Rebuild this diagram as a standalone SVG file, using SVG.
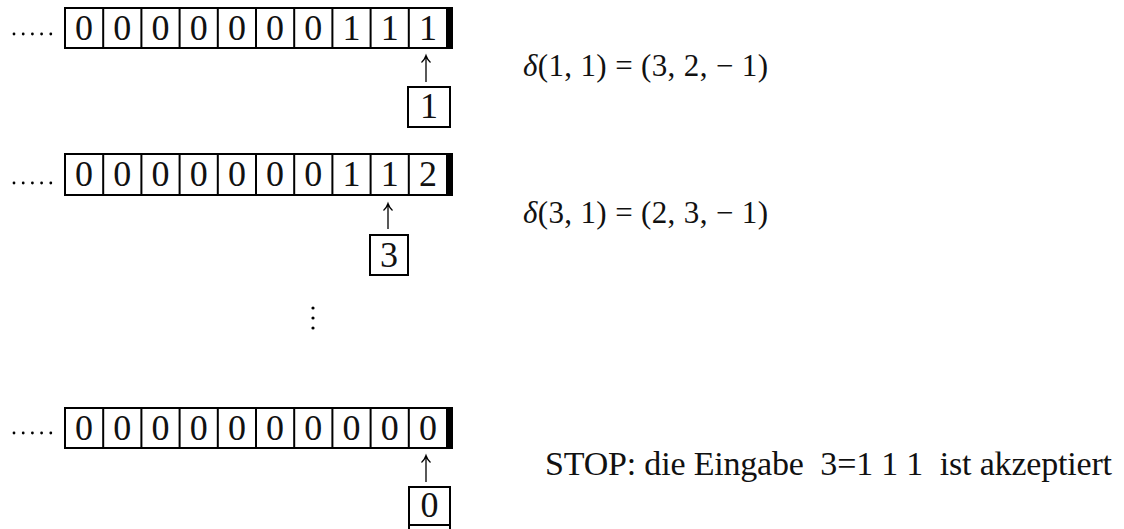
<svg xmlns="http://www.w3.org/2000/svg" width="1124" height="529" viewBox="0 0 1124 529">
<style>
.cell{fill:#fff;stroke:#000;stroke-width:2}
.bar{fill:#000}
.dig{font-family:"Liberation Serif",serif;font-size:36px;text-anchor:middle;fill:#111}
.math{font-family:"Liberation Serif",serif;font-size:31px;fill:#111;white-space:pre}
.stop{font-family:"Liberation Serif",serif;font-size:34px;fill:#111;white-space:pre}
.arr{stroke:#000;stroke-width:1.3;fill:none}
.dot{fill:#000}
</style>
<defs>
<g id="dots5">
<circle class="dot" cx="14" cy="0" r="1.4"/><circle class="dot" cx="23.2" cy="0" r="1.4"/><circle class="dot" cx="32.4" cy="0" r="1.4"/><circle class="dot" cx="41.6" cy="0" r="1.4"/><circle class="dot" cx="50.8" cy="0" r="1.4"/>
</g>
</defs>
<rect width="1124" height="529" fill="#fff"/>

<g id="tape1">
<use href="#dots5" y="34"/>
<rect class="cell" x="65" y="8" width="382" height="40"/>
<path d="M103.2 8V48M141.4 8V48M179.6 8V48M217.8 8V48M256 8V48M294.2 8V48M332.4 8V48M370.6 8V48M408.8 8V48" stroke="#000" stroke-width="2"/>
<rect class="bar" x="446" y="7" width="7" height="42"/>
<g class="dig">
<text x="84.1" y="40">0</text><text x="122.3" y="40">0</text><text x="160.5" y="40">0</text><text x="198.7" y="40">0</text><text x="236.9" y="40">0</text><text x="275.1" y="40">0</text><text x="313.3" y="40">0</text><text x="351.5" y="40">1</text><text x="389.7" y="40">1</text><text x="427.9" y="40">1</text>
</g>
</g>
<g id="head1">
<rect class="cell" x="408" y="87" width="42" height="40"/>
<text class="dig" x="429" y="118">1</text>
</g>
<g id="delta1">
<text class="math" x="523" y="76" textLength="245" lengthAdjust="spacing"><tspan font-style="italic">δ</tspan>(1, 1) = (3, 2, − 1)</text>
</g>

<g id="tape2">
<use href="#dots5" y="183"/>
<rect class="cell" x="65" y="154" width="382" height="41"/>
<path d="M103.2 154V195M141.4 154V195M179.6 154V195M217.8 154V195M256 154V195M294.2 154V195M332.4 154V195M370.6 154V195M408.8 154V195" stroke="#000" stroke-width="2"/>
<rect class="bar" x="446" y="153" width="7" height="43"/>
<g class="dig">
<text x="84.1" y="186">0</text><text x="122.3" y="186">0</text><text x="160.5" y="186">0</text><text x="198.7" y="186">0</text><text x="236.9" y="186">0</text><text x="275.1" y="186">0</text><text x="313.3" y="186">0</text><text x="351.5" y="186">1</text><text x="389.7" y="186">1</text><text x="427.9" y="186">2</text>
</g>
</g>
<g id="head2">
<rect class="cell" x="370" y="235" width="38" height="40"/>
<text class="dig" x="389" y="267">3</text>
</g>
<g id="delta2">
<text class="math" x="523" y="223" textLength="245" lengthAdjust="spacing"><tspan font-style="italic">δ</tspan>(3, 1) = (2, 3, − 1)</text>
</g>

<g id="vdots">
<circle class="dot" cx="313" cy="308" r="1.6"/><circle class="dot" cx="313" cy="318" r="1.6"/><circle class="dot" cx="313" cy="328" r="1.6"/>
</g>

<g id="tape3">
<use href="#dots5" y="433"/>
<rect class="cell" x="65" y="408" width="382" height="40"/>
<path d="M103.2 408V448M141.4 408V448M179.6 408V448M217.8 408V448M256 408V448M294.2 408V448M332.4 408V448M370.6 408V448M408.8 408V448" stroke="#000" stroke-width="2"/>
<rect class="bar" x="446" y="407" width="7" height="42"/>
<g class="dig">
<text x="84.1" y="440">0</text><text x="122.3" y="440">0</text><text x="160.5" y="440">0</text><text x="198.7" y="440">0</text><text x="236.9" y="440">0</text><text x="275.1" y="440">0</text><text x="313.3" y="440">0</text><text x="351.5" y="440">0</text><text x="389.7" y="440">0</text><text x="427.9" y="440">0</text>
</g>
</g>
<g id="head3">
<rect class="cell" x="409" y="487" width="41" height="38"/>
<text class="dig" x="429.5" y="517">0</text>
<path d="M409 525V530M450 525V530" stroke="#000" stroke-width="2"/>
</g>
<g id="stop">
<text class="stop" x="545" y="475" textLength="567" lengthAdjust="spacing">STOP: die Eingabe  3=1 1 1  ist akzeptiert</text>
</g>

<g id="connectors">
<path class="arr" d="M426 82V56M421.5 62.5Q424.5 60 426 55.5Q427.5 60 430.5 62.5"/>
<path class="arr" d="M388 229V204M383.5 210.5Q386.5 208 388 203.5Q389.5 208 392.5 210.5"/>
<path class="arr" d="M426 482V456M421.5 462.5Q424.5 460 426 455.5Q427.5 460 430.5 462.5"/>
</g>
</svg>
